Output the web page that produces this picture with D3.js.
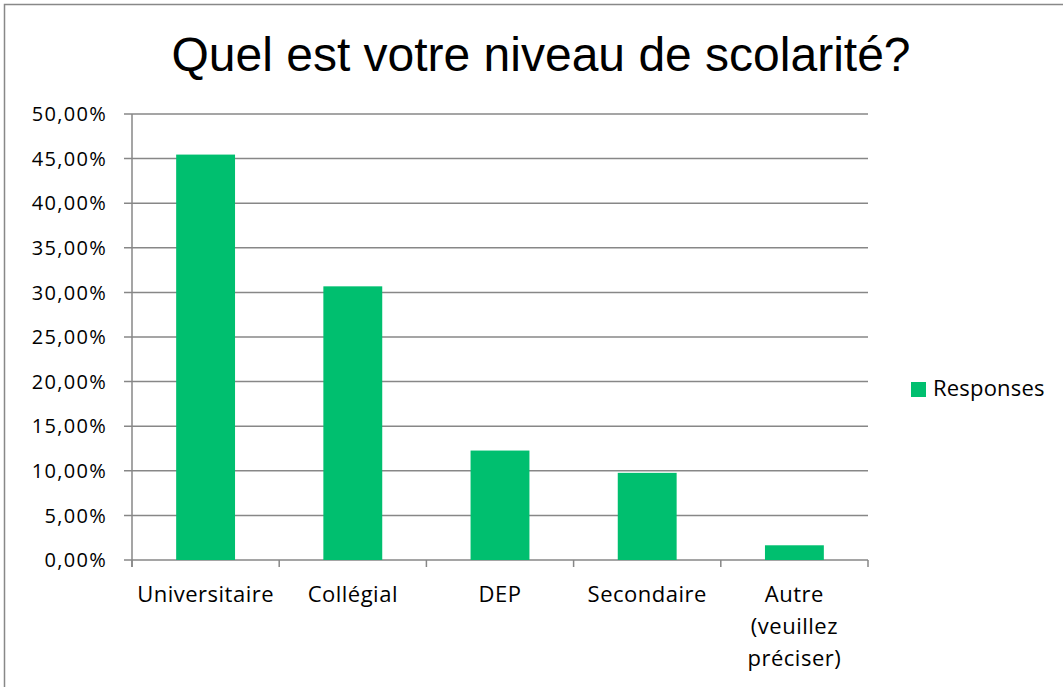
<!DOCTYPE html>
<html>
<head>
<meta charset="utf-8">
<script src="https://cdn.jsdelivr.net/npm/d3@7"></script>
<style>
  body { margin: 0; background: #fff; }
  svg { display: block; }
</style>
</head>
<body>
<div id="chart"></div>
<script>
// data
var categories = ["Universitaire", "Collégial", "DEP", "Secondaire", "Autre (veuillez préciser)"];
var responses = [45.45, 30.68, 12.27, 9.77, 1.65];
var yTicks = [0, 5, 10, 15, 20, 25, 30, 35, 40, 45, 50];
var seriesName = "Responses";
var title = "Quel est votre niveau de scolarité?";

var W = 1063, H = 687;
var margin = {top: 114, right: 195, bottom: 127, left: 132},
    width = W - margin.left - margin.right,
    height = H - margin.top - margin.bottom;

var green = "#00bf6f", gridColor = "#878787", labelFont = "'Open Sans', sans-serif";

var root = d3.select("#chart").append("svg")
    .attr("width", W)
    .attr("height", H);

// outer chart frame
root.append("rect")
    .attr("x", 4.5).attr("y", 4.5)
    .attr("width", W + 20).attr("height", H + 20)
    .attr("fill", "#fff")
    .attr("stroke", "#888")
    .attr("stroke-width", 1.5);

root.append("text")
    .attr("x", 541).attr("y", 71)
    .attr("text-anchor", "middle")
    .style("font-family", "'Liberation Sans', Arial, sans-serif")
    .style("font-size", "48px")
    .text(title);

var svg = root.append("g")
    .attr("transform", `translate(${margin.left}, ${margin.top})`);

var x = d3.scaleBand()
    .domain(categories)
    .range([0, width])
    .paddingInner(0.6)
    .paddingOuter(0.3);

var y = d3.scaleLinear()
    .domain([0, 50])
    .range([height, 0]);

// horizontal gridlines, tick stubs poke out left
svg.append("g")
    .selectAll("line")
    .data(yTicks)
    .join("line")
    .attr("x1", -8).attr("x2", width)
    .attr("y1", d => y(d)).attr("y2", d => y(d))
    .attr("stroke", gridColor)
    .attr("stroke-width", 1.5);

// y labels
svg.append("g")
    .selectAll("text")
    .data(yTicks)
    .join("text")
    .attr("x", -25)
    .attr("y", d => y(d))
    .attr("dy", "0.36em")
    .attr("text-anchor", "end")
    .style("font-family", labelFont)
    .style("font-size", "20px")
    .style("letter-spacing", "1.3px")
    .text(d => d3.format(".2f")(d).replace(".", ",") + "%");

// bars
svg.append("g")
    .selectAll("rect")
    .data(responses)
    .join("rect")
    .attr("x", (d, i) => x(categories[i]))
    .attr("y", d => y(d))
    .attr("width", x.bandwidth())
    .attr("height", d => height - y(d))
    .attr("fill", green);

// y axis line
svg.append("line")
    .attr("x1", 0).attr("x2", 0)
    .attr("y1", 0).attr("y2", height + 7)
    .attr("stroke", gridColor)
    .attr("stroke-width", 1.5);

// x axis ticks between categories
svg.append("g")
    .selectAll("line")
    .data(d3.range(categories.length + 1))
    .join("line")
    .attr("x1", d => d * width / categories.length)
    .attr("x2", d => d * width / categories.length)
    .attr("y1", height).attr("y2", height + 7)
    .attr("stroke", gridColor)
    .attr("stroke-width", 1.5);

// x labels (wrapped like excel)
var wrapped = {"Autre (veuillez préciser)": ["Autre", "(veuillez", "préciser)"]};
svg.append("g")
    .selectAll("text")
    .data(categories)
    .join("text")
    .attr("x", d => x(d) + x.bandwidth() / 2)
    .attr("y", height + 42)
    .attr("text-anchor", "middle")
    .style("font-family", labelFont)
    .style("font-size", "22px")
    .style("letter-spacing", "0.5px")
    .each(function (d) {
        var lines = wrapped[d] || [d];
        d3.select(this).selectAll("tspan")
            .data(lines)
            .join("tspan")
            .attr("x", x(d) + x.bandwidth() / 2)
            .attr("dy", (l, i) => i === 0 ? 0 : 32)
            .text(l => l);
    });

// legend
root.append("rect")
    .attr("x", 911).attr("y", 382)
    .attr("width", 15).attr("height", 15)
    .attr("fill", green);
root.append("text")
    .attr("x", 933).attr("y", 396)
    .style("font-family", labelFont)
    .style("font-size", "22px")
    .style("letter-spacing", "0.2px")
    .text(seriesName);
</script>
</body>
</html>
